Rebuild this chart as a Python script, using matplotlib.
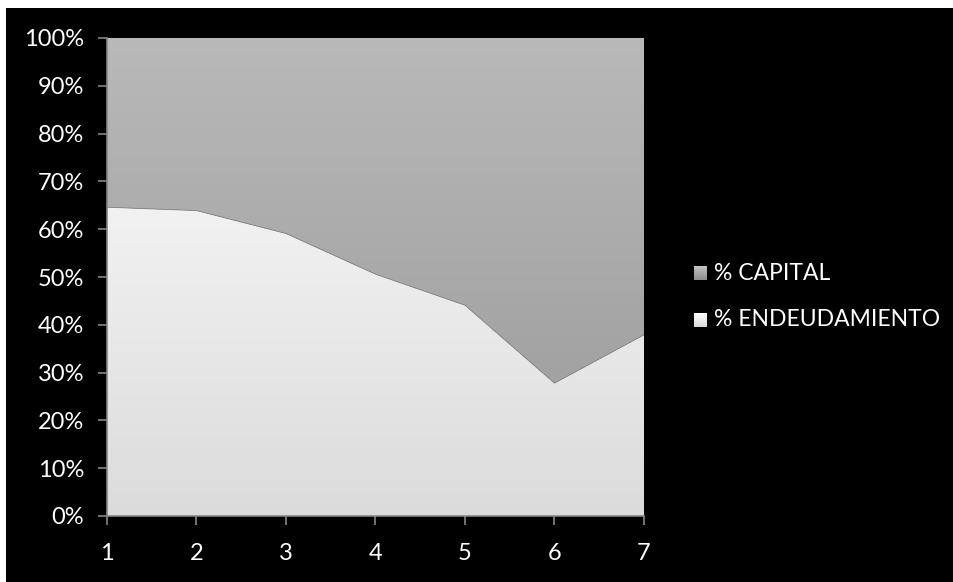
import numpy as np
import matplotlib
matplotlib.use("Agg")
import matplotlib.pyplot as plt
from matplotlib.patches import Rectangle
from matplotlib.ticker import FuncFormatter

periods = [1, 2, 3, 4, 5, 6, 7]
endeudamiento = [64.6, 63.9, 59.1, 50.6, 44.1, 27.8, 37.9]
capital = [35.4, 36.1, 40.9, 49.4, 55.9, 72.2, 62.1]
labels = ['% CAPITAL', '% ENDEUDAMIENTO']

plt.rcParams['font.family'] = ['Lato', 'DejaVu Sans']

W, H = 954, 582
fig = plt.figure(figsize=(W / 100, H / 100), dpi=100, facecolor='white')
# black background with a thin white border top/left
fig.patches.append(Rectangle((6 / W, 0), 1, 1 - 8 / H, transform=fig.transFigure,
                             facecolor='black', edgecolor='none', zorder=-10))

ax = fig.add_axes([107 / W, 1 - 516 / H, (644 - 107) / W, (516 - 38) / H])
ax.set_facecolor('black')


def grad(top, bottom, n=256):
    t = np.linspace(0, 1, n)[:, None]
    c = np.array(top)[None, :] * (1 - t) + np.array(bottom)[None, :] * t
    return c[:, None, :]


x = np.array(periods)
low = np.array(endeudamiento)
high = low + np.array(capital)

# ENDEUDAMIENTO: white to light gray
p1 = ax.fill_between(x, 0, low, facecolor='none', edgecolor='none')
im1 = ax.imshow(grad((0.995, 0.995, 0.995), (0.86, 0.86, 0.86)), extent=[1, 7, 0, 100],
                aspect='auto', origin='upper', zorder=1)
im1.set_clip_path(p1.get_paths()[0], transform=ax.transData)

# CAPITAL: gray gradient
p2 = ax.fill_between(x, low, high, facecolor='none', edgecolor='none')
im2 = ax.imshow(grad((0.725, 0.725, 0.725), (0.60, 0.60, 0.60)), extent=[1, 7, 0, 100],
                aspect='auto', origin='upper', zorder=1)
im2.set_clip_path(p2.get_paths()[0], transform=ax.transData)

ax.plot(x, low, color='#8a8a8a', lw=0.6, zorder=2)

ax.set_xlim(1, 7)
ax.set_ylim(0, 100)
ax.set_xticks(periods)
ax.set_yticks(np.arange(0, 101, 10))
ax.yaxis.set_major_formatter(FuncFormatter(lambda v, p: '%d%%' % v))
for s in ['top', 'right']:
    ax.spines[s].set_visible(False)
for s in ['left', 'bottom']:
    ax.spines[s].set_color('#868686')
    ax.spines[s].set_linewidth(1.2)
    ax.spines[s].set_zorder(3)
ax.tick_params(colors='#868686', length=6.5, width=1.2, direction='out',
               labelcolor='white', labelsize=17)
ax.tick_params(axis='y', pad=10)
ax.tick_params(axis='x', pad=13)

# legend with gradient swatches
swatches = [((0.78, 0.78, 0.78), (0.55, 0.55, 0.55)),
            ((1.0, 1.0, 1.0), (0.85, 0.85, 0.85))]
for i, (lab, (top, bot)) in enumerate(zip(labels, swatches)):
    yc = 273 + i * 47
    sax = fig.add_axes([694 / W, 1 - (yc + 7) / H, 13 / W, 14 / H])
    sax.imshow(grad(top, bot, 32), aspect='auto')
    sax.axis('off')
    fig.text(714 / W, 1 - yc / H, lab, color='white', fontsize=16.5, va='center', ha='left')

fig.savefig('out.png', dpi=100, facecolor=fig.get_facecolor())
